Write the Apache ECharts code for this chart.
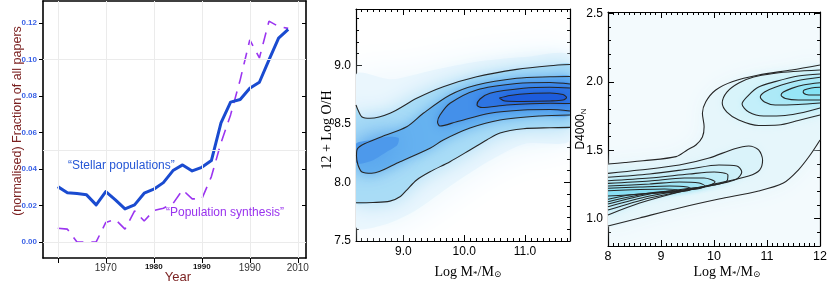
<!DOCTYPE html>
<html>
<head>
<meta charset="utf-8">
<script src="https://cdn.jsdelivr.net/npm/echarts@6.0.0/dist/echarts.min.js"></script>
<style>
html,body{margin:0;padding:0;background:#fff;}
#chart{width:830px;height:288px;}
</style>
</head>
<body>
<div id="chart"></div>
<script>
// ================= DATA =================
// Panel 1: fraction of all papers per year
const years = [1960,1962,1964,1966,1968,1970,1972,1974,1976,1978,1980,1982,1984,1986,1988,1990,1992,1994,1996,1998,2000,2002,2004,2006,2008];
const stellarPopulations = [0.0303,0.0270,0.0265,0.0258,0.0203,0.0276,0.0230,0.0181,0.0203,0.0267,0.0289,0.0325,0.0391,0.0422,0.0389,0.0409,0.0446,0.0652,0.0766,0.0780,0.0842,0.0875,0.0997,0.1117,0.1165];
const populationSynthesis = [0.0075,0.0070,0.0000,0.0000,0.0000,0.0107,0.0123,0.0070,0.0170,0.0115,0.0172,0.0185,0.0210,0.0285,0.0236,0.0236,0.0358,0.0543,0.0696,0.0888,0.1107,0.1008,0.1210,0.1180,0.1170];
const p1XTicks = [1960,1970,1980,1990,2000,2010];
const p1XTickLabels = ['','1970','1980','1990','1990','2010'];
const p1YTicks = [0,0.02,0.04,0.06,0.08,0.10,0.12];
const p1YTickLabels = ['0.00','0.02','0.04','0.06','0.08','0.10','0.12'];
const p1GridY = [0,0.05,0.10];

// Panel 2: 12 + log O/H vs log M*/Msun (contours)
const p2XTicks = [9,10,11];
const p2XTickLabels = ['9.0','10.0','11.0'];
const p2YTicks = [7.5,8.0,8.5,9.0];
const p2YTickLabels = ['7.5','8.0','8.5','9.0'];
const ohC1Top = [[8.22,8.661],[8.253,8.618],[8.314,8.561],[8.450,8.547],[8.779,8.590],[9.218,8.718],[9.656,8.817],[10.205,8.902],[10.863,8.965],[11.411,8.996],[11.74,9.006]];
const ohC1Bottom = [[8.22,7.827],[8.5,7.829],[8.779,7.840],[8.95,7.88],[9.054,7.935],[9.218,8.021],[9.437,8.091],[9.766,8.177],[10.095,8.277],[10.370,8.362],[10.589,8.422],[10.972,8.458],[11.411,8.467],[11.74,8.470]];
const ohC2 = [[11.74,8.904],[11.411,8.902],[10.863,8.889],[10.205,8.831],[9.766,8.746],[9.327,8.590],[9.054,8.475],[8.643,8.390],[8.319,8.319],[8.236,8.277],[8.228,8.225],[8.253,8.149],[8.319,8.089],[8.478,8.078],[8.944,8.177],[9.437,8.291],[9.656,8.362],[10.095,8.464],[10.589,8.533],[11.247,8.567],[11.74,8.575]];
const ohC3 = [[11.74,8.840],[11.411,8.853],[10.863,8.844],[10.205,8.789],[9.766,8.675],[9.602,8.575],[9.561,8.516],[9.602,8.481],[9.876,8.518],[10.424,8.590],[10.972,8.618],[11.411,8.622],[11.74,8.610]];
const ohC4 = [[11.74,8.806],[11.411,8.812],[10.972,8.803],[10.424,8.761],[10.260,8.712],[10.210,8.661],[10.293,8.639],[10.699,8.661],[11.411,8.675],[11.74,8.673]];
const ohC5 = [[10.577,8.720],[10.753,8.742],[11.082,8.759],[11.411,8.763],[11.625,8.750],[11.683,8.725],[11.625,8.703],[11.411,8.695],[10.972,8.691],[10.671,8.695],[10.577,8.720]];
// extent of the faint density halo and the dense low-mass region (read from the shading)
const ohHalo = [[8.22,8.92],[8.8,8.88],[9.5,8.96],[10.2,9.03],[11.0,9.07],[11.74,9.08],[11.74,8.36],[11.0,8.33],[10.4,8.18],[9.8,7.98],[9.2,7.76],[8.7,7.64],[8.22,7.62]];
const ohLowMassCore = [[8.22,8.33],[8.45,8.36],[8.75,8.39],[8.92,8.38],[8.9,8.32],[8.72,8.26],[8.5,8.19],[8.3,8.16],[8.22,8.17]];

// Panel 3: D4000_N vs log M*/Msun (contours)
const p3XTicks = [8,9,10,11,12];
const p3XTickLabels = ['8','9','10','11','12'];
const p3YTicks = [1.0,1.5,2.0,2.5];
const p3YTickLabels = ['1.0','1.5','2.0','2.5'];
const dC1Top = [[8.000,1.399],[8.318,1.410],[8.660,1.423],[9.284,1.453],[9.495,1.502],[9.658,1.538],[9.781,1.597],[9.813,1.672],[9.781,1.770],[9.845,1.854],[10.032,1.940],[10.342,2.001],[10.841,2.050],[11.464,2.086],[12.0,2.123]];
const dC1Bottom = [[8.000,0.946],[8.598,1.005],[9.346,1.078],[10.093,1.143],[10.841,1.202],[11.308,1.260],[11.589,1.355],[11.813,1.465],[12.0,1.575]];
const dLowC2 = [[8.000,1.331],[8.598,1.355],[9.346,1.392],[9.907,1.443],[10.374,1.509],[10.654,1.531],[10.841,1.502],[10.916,1.428],[10.860,1.355],[10.654,1.312],[10.093,1.260],[9.346,1.195],[8.598,1.114],[8.000,1.027]];
const dLowC3 = [[8.000,1.302],[8.785,1.326],[9.533,1.363],[10.093,1.392],[10.430,1.385],[10.523,1.341],[10.430,1.290],[10.093,1.253],[9.533,1.209],[8.785,1.151],[8.000,1.063]];
const dLowC4 = [[8.000,1.277],[8.785,1.297],[9.533,1.326],[10.000,1.341],[10.262,1.319],[10.243,1.275],[10.000,1.246],[9.533,1.217],[8.785,1.165],[8.000,1.087]];
const dLowC5 = [[8.000,1.258],[8.785,1.275],[9.439,1.297],[9.813,1.297],[10.019,1.268],[9.869,1.238],[9.439,1.217],[8.785,1.180],[8.000,1.107]];
const dLowC6 = [[8.000,1.238],[8.785,1.253],[9.346,1.268],[9.720,1.260],[9.832,1.238],[9.682,1.217],[9.346,1.206],[8.785,1.187],[8.000,1.124]];
const dLowC7 = [[8.000,1.222],[8.598,1.231],[9.159,1.238],[9.495,1.231],[9.570,1.217],[9.439,1.202],[8.972,1.191],[8.411,1.173],[8.000,1.141]];
const dLowC8 = [[8.000,1.204],[8.598,1.213],[9.065,1.217],[9.308,1.209],[9.271,1.195],[8.972,1.187],[8.505,1.176],[8.000,1.165]];
const dHighC2 = [[12.0,2.086],[11.495,2.075],[11.153,2.062],[10.748,2.035],[10.467,1.991],[10.243,1.925],[10.155,1.845],[10.243,1.779],[10.467,1.721],[10.841,1.681],[11.215,1.684],[11.589,1.717],[12.0,1.757]];
const dHighC3 = [[12.0,2.057],[11.589,2.042],[11.153,2.001],[10.841,1.962],[10.654,1.903],[10.529,1.838],[10.654,1.779],[10.935,1.750],[11.340,1.754],[11.682,1.776],[12.0,1.808]];
const dHighC4 = [[12.0,2.033],[11.589,2.009],[11.153,1.960],[10.953,1.925],[10.873,1.889],[10.953,1.852],[11.153,1.830],[11.589,1.834],[12.0,1.845]];
const dHighC5 = [[12.0,1.993],[11.682,1.977],[11.464,1.952],[11.308,1.925],[11.265,1.903],[11.346,1.878],[11.589,1.867],[12.0,1.867]];
const dHighC6 = [[12.0,1.960],[11.838,1.955],[11.701,1.940],[11.682,1.925],[11.738,1.907],[11.869,1.903],[12.0,1.903]];

// ================= STYLE / LAYOUT =================
const F_SANS = '"Liberation Sans", Arial, Helvetica, sans-serif';
const F_SERIF = '"Liberation Serif", "DejaVu Serif", serif';
const p1XLabelStyleKeys = ['big','big','small','small','big','big'];

function stepValues(a, b, s) { const r = []; for (let v = a; v <= b + 1e-9; v += s) r.push(+v.toFixed(3)); return r; }
function labelOf(values, labels) {
  return v => { for (let i = 0; i < values.length; i++) if (Math.abs(values[i] - v) < 1e-6) return labels[i]; return ''; };
}
function boxAxes(dim, g, min, max, o) {
  const isX = dim === 'x';
  const p1 = isX ? 'bottom' : 'left', p2 = isX ? 'top' : 'right';
  const common = { type: 'value', gridIndex: g, min: min, max: max, splitLine: { show: false }, splitArea: { show: false }, axisPointer: { show: false }, silent: true };
  const line = show => ({ show: show, onZero: false, lineStyle: { color: '#000', width: o.lineWidth } });
  const tick = (vals, len, inside) => ({ show: true, inside: inside, length: len, customValues: vals, lineStyle: { color: '#000', width: 1 } });
  const out = [];
  out.push(Object.assign({}, common, { position: p1, axisLine: line(true), axisTick: tick(o.major, o.majorLen, o.inside),
    axisLabel: Object.assign({ show: true, customValues: o.major, formatter: o.formatter || labelOf(o.major, o.labels), margin: o.margin }, o.labelStyle) }));
  if (o.minor) out.push(Object.assign({}, common, { position: p1, axisLine: line(false), axisTick: tick(o.minor, o.minorLen, true), axisLabel: { show: false } }));
  out.push(Object.assign({}, common, { position: p2, axisLine: line(true), axisTick: tick(o.major, o.majorLen2 || o.majorLen, true), axisLabel: { show: false } }));
  if (o.minor) out.push(Object.assign({}, common, { position: p2, axisLine: line(false), axisTick: tick(o.minor, o.minorLen, true), axisLabel: { show: false } }));
  return out;
}

const p1XFormatter = v => { for (let i = 0; i < p1XTicks.length; i++) if (Math.abs(p1XTicks[i] - v) < 1e-6) return p1XTickLabels[i] ? '{' + p1XLabelStyleKeys[i] + '|' + p1XTickLabels[i] + '}' : ''; return ''; };

const xAxes = [].concat(
  boxAxes('x', 0, 1956.92, 2011.71, { major: p1XTicks, labels: p1XTickLabels, formatter: p1XFormatter, inside: false, majorLen: 5, majorLen2: 4, margin: 5, lineWidth: 1.6,
    labelStyle: { rich: { big: { fontSize: 10, color: '#333', fontFamily: F_SANS }, small: { fontSize: 8, fontWeight: 'bold', color: '#111', fontFamily: F_SANS } } } }),
  boxAxes('x', 1, 8.22, 11.74, { major: p2XTicks, labels: p2XTickLabels, minor: stepValues(8.3, 11.7, 0.1), inside: true, majorLen: 6, minorLen: 3, margin: 5, lineWidth: 1.2,
    labelStyle: { fontSize: 12, color: '#000', fontFamily: F_SANS } }),
  boxAxes('x', 2, 8, 12, { major: p3XTicks, labels: p3XTickLabels, minor: stepValues(8.1, 11.9, 0.1), inside: true, majorLen: 6, minorLen: 3, margin: 4, lineWidth: 1.2,
    labelStyle: { fontSize: 12.5, color: '#000', fontFamily: F_SANS } })
);
const yAxes = [].concat(
  boxAxes('y', 0, -0.0088, 0.132, { major: p1YTicks, labels: p1YTickLabels, inside: false, majorLen: 4, margin: 6, lineWidth: 1.6,
    labelStyle: { fontSize: 8, fontWeight: 'bold', color: '#3b62e6', fontFamily: F_SANS } }),
  boxAxes('y', 1, 7.5, 9.48, { major: p2YTicks, labels: p2YTickLabels, minor: stepValues(7.6, 9.4, 0.1), inside: true, majorLen: 6, minorLen: 3, margin: 5, lineWidth: 1.2,
    labelStyle: { fontSize: 12, color: '#000', fontFamily: F_SANS } }),
  boxAxes('y', 2, 0.8, 2.51, { major: p3YTicks, labels: p3YTickLabels, minor: stepValues(0.9, 2.4, 0.1), inside: true, majorLen: 6, minorLen: 3, margin: 5, lineWidth: 1.2,
    labelStyle: { fontSize: 12, color: '#000', fontFamily: F_SANS } })
);

function shade(axisIdx, layers, fills, blurs) {
  return {
    type: 'custom', xAxisIndex: axisIdx, yAxisIndex: axisIdx, silent: true, z: 1,
    data: layers.map(l => [l[0][0], l[0][1]]),
    renderItem: (params, api) => {
      const i = params.dataIndex;
      const pts = layers[i].map(p => api.coord(p));
      const cs = params.coordSys;
      return { type: 'group', clipPath: { type: 'rect', shape: { x: cs.x, y: cs.y, width: cs.width, height: cs.height } },
        children: [{ type: 'polygon', shape: { points: pts, smooth: 0.25 }, style: { fill: fills[i], shadowBlur: blurs[i], shadowColor: fills[i] } }] };
    }
  };
}
function contour(axisIdx, pts) {
  return { type: 'line', xAxisIndex: axisIdx, yAxisIndex: axisIdx, data: pts, showSymbol: false, symbol: 'none', smooth: 0.3, silent: true, z: 5,
    lineStyle: { color: '#262626', width: 1.1 } };
}
const rev = a => a.slice().reverse();

const series = [
  // panel 1 gridlines
  { type: 'line', xAxisIndex: 0, yAxisIndex: 0, data: [], z: 1, silent: true,
    markLine: { silent: true, symbol: ['none', 'none'], label: { show: false }, lineStyle: { color: '#ebebeb', width: 1, type: 'solid' },
      data: p1GridY.map(v => ({ yAxis: v })).concat(p1XTicks.map(v => ({ xAxis: v }))) } },
  { type: 'line', name: 'Population synthesis', xAxisIndex: 0, yAxisIndex: 0, data: years.map((y, i) => [y, populationSynthesis[i]]),
    showSymbol: false, symbol: 'none', z: 3, lineStyle: { color: '#9b35f0', width: 1.6, type: [12, 8] } },
  { type: 'line', name: 'Stellar populations', xAxisIndex: 0, yAxisIndex: 0, data: years.map((y, i) => [y, stellarPopulations[i]]),
    showSymbol: false, symbol: 'none', z: 4, lineStyle: { color: '#1a4bd0', width: 3, join: 'round' } },
  // panel 2 shading
  shade(2, [ohHalo, ohC1Top.concat(rev(ohC1Bottom)), ohC2, ohLowMassCore, ohC3, ohC4, ohC5],
    ['#eaf6fd', '#a9dcf6', '#66b2f0', '#4d99eb', '#4490ea', '#2d74e3', '#1d5cdc'], [40, 22, 14, 28, 10, 8, 6]),
  contour(2, ohC1Top), contour(2, ohC1Bottom), contour(2, ohC2), contour(2, ohC3), contour(2, ohC4), contour(2, ohC5),
  // panel 3 shading
  shade(6, [dC1Top.concat(rev(dC1Bottom)), dLowC2, dLowC3, dLowC4, dLowC5, dLowC6, dLowC7, dLowC8, dHighC2, dHighC3, dHighC4, dHighC5, dHighC6],
    ['#e6f6fb', '#daf3fa', '#cdf0f9', '#c0edf8', '#b2eaf7', '#a3e6f5', '#96e3f4', '#8adff3', '#d8f4fa', '#c3effa', '#ace9f7', '#97e6f6', '#85e3f6'],
    [20, 8, 7, 6, 6, 5, 5, 4, 8, 7, 6, 5, 4]),
  contour(6, dC1Top), contour(6, dC1Bottom),
  contour(6, dLowC2), contour(6, dLowC3), contour(6, dLowC4), contour(6, dLowC5), contour(6, dLowC6), contour(6, dLowC7), contour(6, dLowC8),
  contour(6, dHighC2), contour(6, dHighC3), contour(6, dHighC4), contour(6, dHighC5), contour(6, dHighC6)
];

function txt(x, y, text, font, fill, rot, align, rich) {
  return { type: 'text', x: x, y: y, rotation: rot || 0, silent: true, z: 10,
    style: { text: text, font: font, fill: fill, align: align || 'center', verticalAlign: 'middle', textAlign: align || 'center', textVerticalAlign: 'middle', rich: rich } };
}
const subRich = { s: { fontSize: 9, fontFamily: F_SERIF, padding: [6, 0, 0, 0] } };
const subRichSans = { s: { fontSize: 8, fontFamily: F_SANS, padding: [6, 0, 0, 0] } };

const option = {
  animation: false,
  backgroundColor: '#ffffff',
  grid: [
    { left: 43, top: 1, width: 263, height: 257, show: false },
    { left: 356, top: 9, width: 214, height: 232, show: false },
    { left: 608, top: 12, width: 214, height: 234, show: true, backgroundColor: '#f3fafd', borderWidth: 0 }
  ],
  xAxis: xAxes,
  yAxis: yAxes,
  series: series,
  graphic: [
    txt(18, 121, '(normalised) Fraction of all papers', '12.5px ' + F_SANS, '#7a1f1f', Math.PI / 2),
    txt(178, 277, 'Year', '13px ' + F_SANS, '#7a1f1f'),
    txt(68, 166, '\u201cStellar populations\u201d', '12px ' + F_SANS, '#2456d6', 0, 'left'),
    txt(166, 213, '\u201cPopulation synthesis\u201d', '12px ' + F_SANS, '#9933ee', 0, 'left'),
    txt(327, 130, '12 + Log O/H', '14px ' + F_SERIF, '#000', Math.PI / 2),
    txt(468, 272, 'Log M{s|*}/M{s|\u2299}', '14px ' + F_SERIF, '#000', 0, 'center', subRich),
    txt(727, 272, 'Log M{s|*}/M{s|\u2299}', '14px ' + F_SERIF, '#000', 0, 'center', subRich),
    txt(581, 129, 'D4000{s|N}', '12px ' + F_SANS, '#000', Math.PI / 2, 'center', subRichSans)
  ]
};

const chart = echarts.init(document.getElementById('chart'), null, { renderer: 'canvas', width: 830, height: 288 });
chart.setOption(option);
</script>
</body>
</html>
